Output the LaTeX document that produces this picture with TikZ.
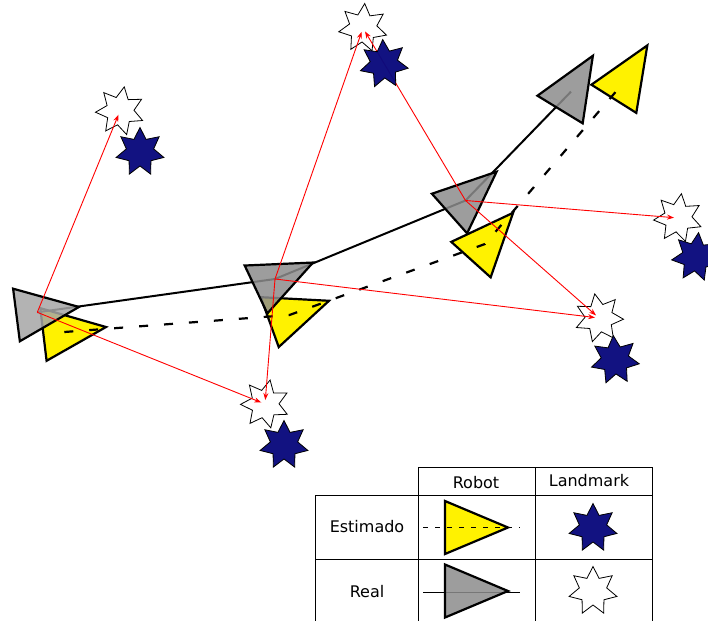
\documentclass[tikz,border=0pt]{standalone}
\usepackage{fontspec}
\setmainfont{DejaVu Sans}
\usetikzlibrary{shapes.geometric,arrows.meta}
\definecolor{navystar}{RGB}{10,10,125}
\tikzset{
  realrob/.style={draw=black, line width=2.2pt, fill=black!45, fill opacity=0.85, line join=miter},
  realrobl/.style={draw=black, line width=2.2pt, fill=black!35, fill opacity=0.85, line join=miter},
  estrob/.style={draw=black, line width=2.2pt, fill=yellow, line join=miter},
  whitestar/.style={star, star points=7, star point ratio=1.75, minimum size=49pt, inner sep=0pt, draw=black, line width=0.8pt, fill=white},
  bluestar/.style={star, star points=7, star point ratio=1.75, minimum size=49pt, inner sep=0pt, draw=black, line width=0.8pt, fill=navystar, fill opacity=0.97},
  obs/.style={draw=red, line width=0.9pt, -{Stealth[length=7pt,width=5pt]}, shorten >=4pt},
  realpath/.style={draw=black, line width=2pt},
  estpath/.style={draw=black, line width=2.2pt, dash pattern=on 9pt off 16pt},
  gridline/.style={draw=black, line width=0.8pt},
  lbl/.style={font=\fontsize{16}{19}\selectfont, inner sep=0pt},
}
\newcommand{\robotshape}[4]{%
  \begin{scope}[shift={(#1,#2)}, rotate=#3]
    \path[#4] (42,0) -- (-21,26.5) -- (-21,-26.5) -- cycle;
  \end{scope}}
\begin{document}
\begin{tikzpicture}[x=1pt,y=-1pt]
\useasboundingbox (0,0) rectangle (708,621);
% positions
\coordinate (g1) at (37.3,312.3);
\coordinate (g2) at (275,279);
\coordinate (g3) at (465.5,200.5);
\coordinate (g4) at (571,91.6);
\coordinate (e1) at (64.3,332);
\coordinate (e2) at (289.5,315);
\coordinate (e3) at (485,244);
\coordinate (e4) at (625,81);
% estimated robots
\robotshape{64.3}{332}{6.8}{estrob}
\robotshape{289.5}{315}{19.8}{estrob}
\robotshape{485}{244}{48}{estrob}
\robotshape{625}{81}{57.9}{estrob}
\draw[estpath] (e1) -- (e2) -- (e3) -- (e4);
\draw[realpath] (g1) -- (g2) -- (g3) -- (g4);
% real robots
\robotshape{37.3}{312.3}{7.3}{realrobl}
\robotshape{275}{280.5}{25.3}{realrob}
\robotshape{465.2}{199.6}{41.6}{realrob}
\robotshape{571}{91.6}{58.6}{realrob}
% real landmarks
\node[whitestar, shape border rotate=-10] (wA) at (120,111) {};
\node[whitestar, shape border rotate=-4] (wB) at (363,28) {};
\node[whitestar, shape border rotate=-12] (wC) at (265,404) {};
\node[whitestar, shape border rotate=10] (wD) at (599,318) {};
\node[whitestar, shape border rotate=-8] (wE) at (678,218) {};
% observations
\draw[obs] (g1) -- (wA.center);
\draw[obs] (g1) -- (wC.center);
\draw[obs] (g2) -- (wB.center);
\draw[obs] (g2) -- (wC.center);
\draw[obs] (g2) -- (wD.center);
\draw[obs] (g3) -- (wB.center);
\draw[obs] (g3) -- (wE.center);
\draw[obs] (g3) -- (wD.center);
% estimated landmarks
\node[bluestar, shape border rotate=0] (bA) at (140,152) {};
\node[bluestar, shape border rotate=3] (bB) at (384,64) {};
\node[bluestar, shape border rotate=0] (bC) at (284,445) {};
\node[bluestar, shape border rotate=4] (bD) at (615,360) {};
\node[bluestar, shape border rotate=-6] (bE) at (696,257) {};
% legend
\draw[gridline] (418,467) -- (652,467);
\draw[gridline] (315,495) -- (652,495);
\draw[gridline] (315,559) -- (652,559);
\draw[gridline] (418,467) -- (418,621);
\draw[gridline] (535,467) -- (535,621);
\draw[gridline] (652,467) -- (652,621);
\draw[gridline] (315,495) -- (315,621);
\node[lbl] (hRobot) at (476,483) {Robot};
\node[lbl] (hLand) at (589,481) {Landmark};
\node[lbl] (hEst) at (367,527) {Estimado};
\node[lbl] (hReal) at (367,592) {Real};
\robotshape{466}{527.5}{0}{estrob}
\coordinate (le1) at (423,527.5);
\coordinate (le2) at (520,527.5);
\draw[black, line width=0.8pt, dash pattern=on 5pt off 7pt] (le1) -- (le2);
\coordinate (lr1) at (423,592);
\coordinate (lr2) at (520,592);
\draw[black, line width=0.8pt] (lr1) -- (lr2);
\robotshape{466}{591}{0}{realrob}
\node[bluestar] (lB) at (593,528) {};
\node[whitestar] (lW) at (593,591) {};
\end{tikzpicture}
\end{document}
